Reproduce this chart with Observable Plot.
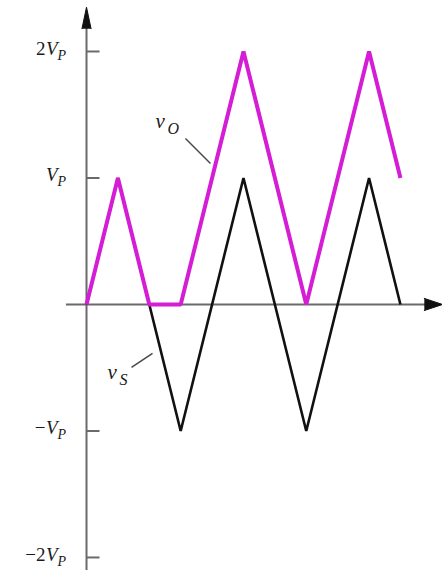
<!DOCTYPE html>
<html>
<head>
<meta charset="utf-8">
<script src="https://cdn.jsdelivr.net/npm/d3@7"></script>
<script src="https://cdn.jsdelivr.net/npm/@observablehq/plot@0.6"></script>
<style>
  html, body { margin: 0; padding: 0; background: #ffffff; overflow: hidden; }
  #chart svg { display: block; }
</style>
</head>
<body>
<div id="chart"></div>
<script>
// Time is measured in quarter periods of the source triangle wave,
// voltage in units of the peak value V_P.
const vsTime = [0, 1, 3, 5, 7, 9, 10];
const vsVolt = [0, 1, -1, 1, -1, 1, 0];

const voTime = [0, 1, 2, 3, 5, 7, 9, 10];
const voVolt = [0, 1, 0, 0, 2, 0, 2, 1];

// Vertical axis ticks: value, upright prefix, italic symbol, subscript
const tickValues = [2, 1, -1, -2];
const tickPrefix = ["2", "", "\u2212", "\u22122"];
const tickSymbol = "V";
const tickSub = "P";

// Curve labels
const curveSymbol = "v";
const curveSubs = ["O", "S"];

// Scale extents
const xDomain = [-2.74, 11.34];
const yDomain = [-2.103, 2.403];

const axisColor = "#6a6a6a";
const inkColor = "#111111";
const textColor = "#1a1a1a";
const magenta = "#d41dd4";
const serif = "'Liberation Serif', 'DejaVu Serif', serif";

// Axis geometry (data units)
const xAxisStart = -0.64;
const xArrowLen = 0.58, xArrowHalf = 0.048;
const yArrowTip = 2.35, yArrowLen = 0.17, yArrowHalf = 0.145;
const tickLen = 0.43;

const vs = vsTime.map((t, i) => ({t, v: vsVolt[i]}));
const vo = voTime.map((t, i) => ({t, v: voVolt[i]}));
const ticks = tickValues.map((v, i) => ({v, prefix: tickPrefix[i]}));

const xTip = xDomain[1];
const xHead = [
  {t: xTip - xArrowLen, v: xArrowHalf},
  {t: xTip, v: 0},
  {t: xTip - xArrowLen, v: -xArrowHalf}
];
const yHead = [
  {t: -yArrowHalf, v: yArrowTip - yArrowLen},
  {t: 0, v: yArrowTip},
  {t: yArrowHalf, v: yArrowTip - yArrowLen}
];

// Labels for v_O and v_S with their leader lines
const labels = [
  {sub: curveSubs[0], t: 2.2, v: 1.447, t1: 3.153, v1: 1.312, t2: 3.949, v2: 1.115},
  {sub: curveSubs[1], t: 0.67, v: -0.537, t1: 1.433, v1: -0.498, t2: 2.102, v2: -0.387}
];

const chart = Plot.plot({
  width: 442,
  height: 570,
  margin: 0,
  style: {background: "#ffffff", overflow: "visible"},
  x: {domain: xDomain, axis: null},
  y: {domain: yDomain, axis: null},
  marks: [
    // axes
    Plot.ruleY([0], {x1: xAxisStart, x2: xTip - xArrowLen + 0.05, stroke: axisColor, strokeWidth: 2}),
    Plot.ruleX([0], {y1: yDomain[0], y2: yArrowTip - yArrowLen + 0.02, stroke: axisColor, strokeWidth: 2}),
    Plot.line(xHead, {x: "t", y: "v", fill: inkColor, stroke: inkColor, strokeWidth: 1, strokeLinejoin: "miter"}),
    Plot.line(yHead, {x: "t", y: "v", fill: inkColor, stroke: inkColor, strokeWidth: 1, strokeLinejoin: "miter"}),
    Plot.ruleY(ticks, {y: "v", x1: 0, x2: tickLen, stroke: axisColor, strokeWidth: 2}),

    // tick labels
    Plot.text(ticks, {x: 0, y: "v", text: "prefix", textAnchor: "end", dx: -41, dy: -3,
      fontFamily: serif, fontSize: 19, fill: textColor}),
    Plot.text(ticks, {x: 0, y: "v", text: () => tickSymbol, textAnchor: "end", dx: -29, dy: -3,
      fontFamily: serif, fontSize: 19, fontStyle: "italic", fill: textColor}),
    Plot.text(ticks, {x: 0, y: "v", text: () => tickSub, textAnchor: "start", dx: -29, dy: 4,
      fontFamily: serif, fontSize: 14, fontStyle: "italic", fill: textColor}),

    // source and output waveforms
    Plot.line(vs, {x: "t", y: "v", stroke: inkColor, strokeWidth: 2.6, strokeLinejoin: "miter", strokeLinecap: "butt"}),
    Plot.line(vo, {x: "t", y: "v", stroke: magenta, strokeWidth: 4, strokeLinejoin: "miter", strokeLinecap: "butt"}),

    // curve labels
    Plot.link(labels, {x1: "t1", y1: "v1", x2: "t2", y2: "v2", stroke: "#4a4a4a", strokeWidth: 1.5}),
    Plot.text(labels, {x: "t", y: "v", text: () => curveSymbol, textAnchor: "start",
      fontFamily: serif, fontSize: 21, fontStyle: "italic", fill: textColor}),
    Plot.text(labels, {x: "t", y: "v", text: "sub", textAnchor: "start", dx: 12, dy: 7,
      fontFamily: serif, fontSize: 16, fontStyle: "italic", fill: textColor})
  ]
});

document.getElementById("chart").appendChild(chart);
</script>
</body>
</html>
